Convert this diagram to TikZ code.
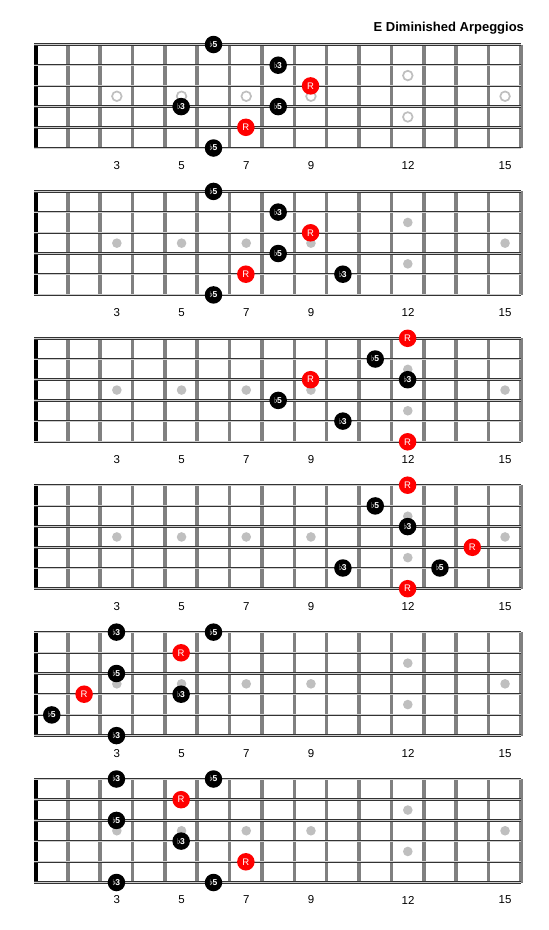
\documentclass[tikz,border=0pt]{standalone}
\usepackage{fontspec}
\setmainfont{Liberation Sans}

\begin{document}
\begin{tikzpicture}[x=1pt,y=-1pt,
    string/.style={draw=black!80,double=black!20,double distance=0.9pt,line width=0.8pt},
    fretwire/.style={draw=black!50,line width=3.6pt},
    nutbar/.style={draw=black,line width=4pt},
    inlay/.style={fill=black!25},
    ring/.style={draw=black!25,line width=1.7pt},
    deg/.style={circle,fill=black,text=white,inner sep=0pt,minimum size=17.5pt,
      font=\bfseries\fontsize{8.5}{8.5}\selectfont},
    root/.style={deg,fill=red,font=\fontsize{9.5}{9.5}\selectfont},
    fretnum/.style={font=\fontsize{11.5}{11.5}\selectfont}]
  \useasboundingbox (0,0) rectangle (549,930);

  \node[anchor=east,font=\bfseries\fontsize{13}{13}\selectfont] (title) at (527.5,28) {E Diminished Arpeggios};

  % six boards
  \foreach \b in {0,...,5} {
    \pgfmathsetmacro\t{44.5+146.9*\b}
    \foreach \n in {1,...,15}
      \draw[fretwire] ({35.5+32.35*\n},\t) -- ({35.5+32.35*\n},\t+103.5);
    \draw[nutbar] (36,\t) -- (36,\t+103.5);
    \foreach \s in {0,...,5}
      \draw[string] (34,\t+20.7*\s) -- (521,\t+20.7*\s);
    \foreach \n in {3,5,7,9,12,15}
      \node[fretnum] (num-\b-\n) at ({19.8+32.35*\n},\t+121) {\n};
  }

  % inlays, rings on the first board
  \foreach \n in {3,5,7,9,15}
    \draw[ring] ({19.8+32.35*\n},96.25) circle (4.8);
  \draw[ring] (407.8,75.55) circle (4.8) (407.8,116.95) circle (4.8);
  \foreach \b in {1,...,5} {
    \pgfmathsetmacro\t{44.5+146.9*\b}
    \foreach \n in {3,5,7,9,15}
      \fill[inlay] ({19.8+32.35*\n},\t+51.75) circle (4.8);
    \fill[inlay] (407.8,\t+31.05) circle (4.8) (407.8,\t+72.45) circle (4.8);
  }

  % flat thirds and fifths: board/fret/string/degree
  \foreach \b/\f/\s/\d in {0/6/1/5, 0/8/2/3, 0/8/4/5, 0/5/4/3, 0/6/6/5,
      1/6/1/5, 1/8/2/3, 1/8/4/5, 1/10/5/3, 1/6/6/5,
      2/11/2/5, 2/12/3/3, 2/8/4/5, 2/10/5/3,
      3/11/2/5, 3/12/3/3, 3/10/5/3, 3/13/5/5,
      4/3/1/3, 4/6/1/5, 4/3/3/5, 4/5/4/3, 4/1/5/5, 4/3/6/3,
      5/3/1/3, 5/6/1/5, 5/3/3/5, 5/5/4/3, 5/3/6/3, 5/6/6/5}
    \node[deg] (n-\b-\f-\s) at ({19.4+32.35*\f},{44.5+146.9*\b+20.7*(\s-1)}) {$\flat$\kern-0.5pt\d};

  % roots: board/fret/string
  \foreach \b/\f/\s in {0/9/3, 0/7/5, 1/9/3, 1/7/5, 2/12/1, 2/9/3, 2/12/6,
      3/12/1, 3/14/4, 3/12/6, 4/5/2, 4/2/4, 5/5/2, 5/7/5}
    \node[root] (r-\b-\f-\s) at ({19.4+32.35*\f},{44.5+146.9*\b+20.7*(\s-1)}) {R};
\end{tikzpicture}
\end{document}
